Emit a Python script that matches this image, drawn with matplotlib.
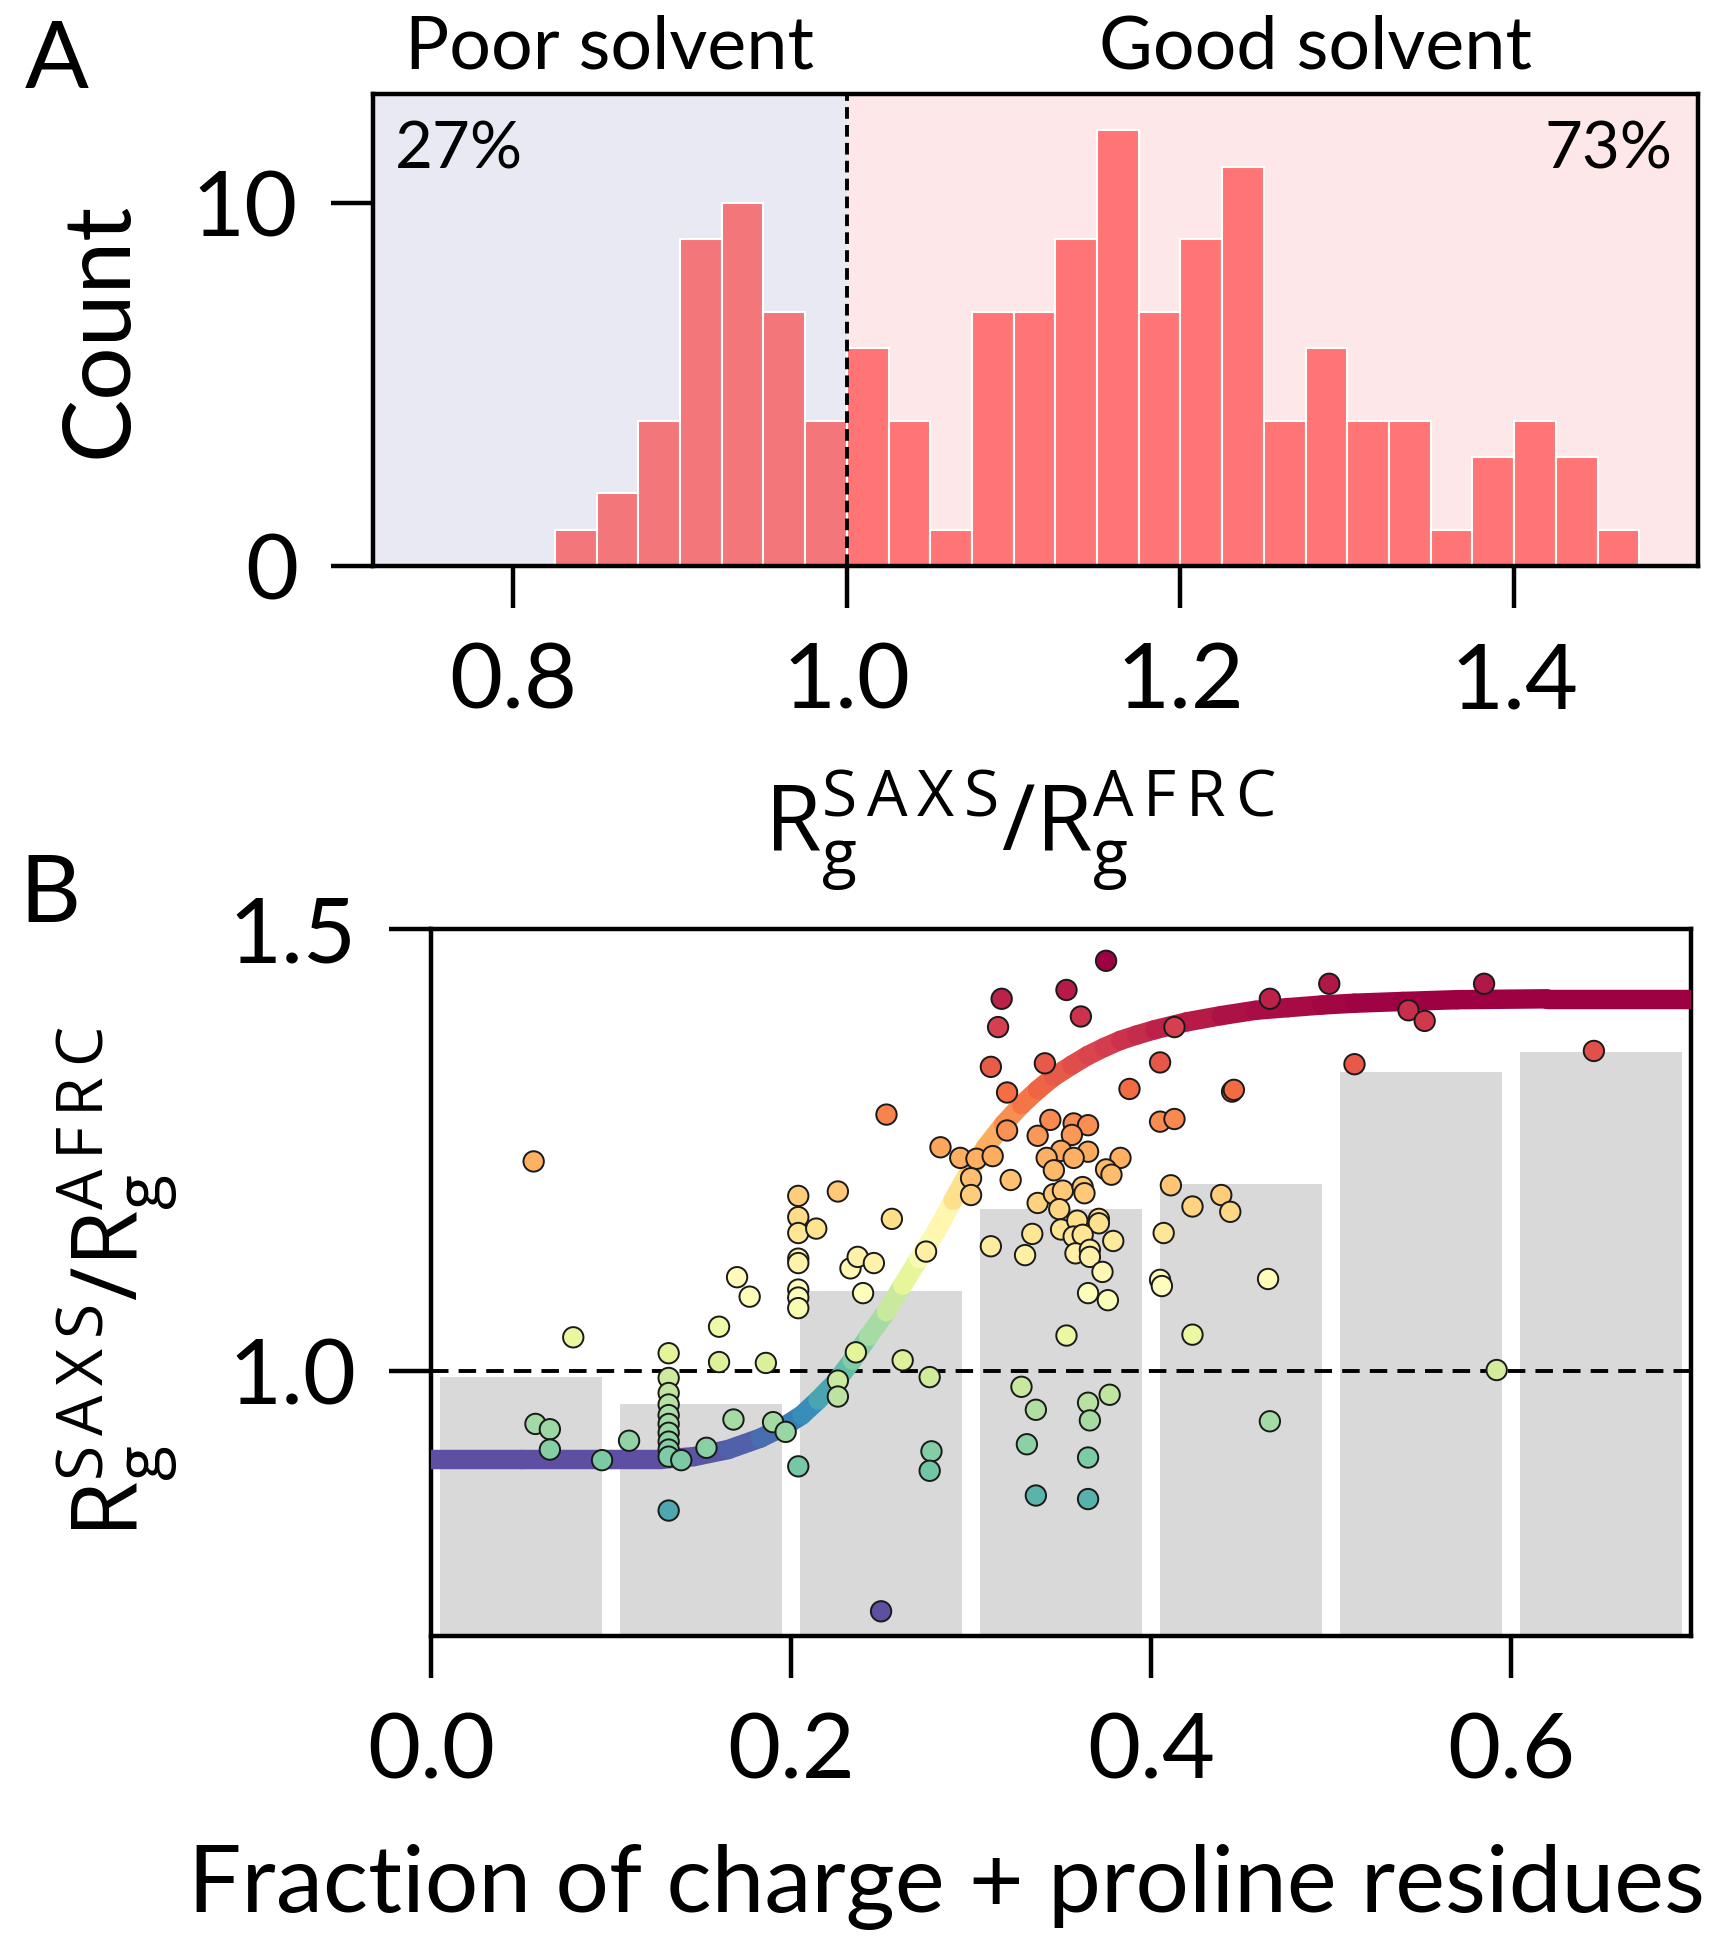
import numpy as np
import matplotlib
matplotlib.use("Agg")
import matplotlib.pyplot as plt
from matplotlib.collections import LineCollection

plt.rcParams['font.family'] = ['Lato', 'DejaVu Sans']
plt.rcParams['mathtext.fontset'] = 'custom'
plt.rcParams['mathtext.rm'] = 'Open Sans'
plt.rcParams['mathtext.it'] = 'Open Sans'

# ---- panel A: histogram of Rg ratio ----
bin_left = [0.825, 0.850, 0.875, 0.900, 0.925, 0.950, 0.975,
            1.000, 1.025, 1.050, 1.075, 1.100, 1.125, 1.150, 1.175, 1.200,
            1.225, 1.250, 1.275, 1.300, 1.325, 1.350, 1.375, 1.400, 1.425, 1.450]
bin_count = [1, 2, 4, 9, 10, 7, 4,
             6, 4, 1, 7, 7, 9, 12, 7, 9,
             11, 4, 6, 4, 4, 1, 3, 4, 3, 1]
bin_width = 0.025

# ---- panel B: scatter, binned means, sigmoid fit ----
fcr_x = [0.057, 0.079, 0.058, 0.066, 0.066, 0.095, 0.110,
         0.132, 0.132, 0.132, 0.132, 0.132, 0.132, 0.132, 0.132, 0.132, 0.132,
         0.132, 0.139, 0.153, 0.160, 0.160, 0.170, 0.177, 0.186, 0.168, 0.190, 0.197,
         0.204, 0.204, 0.204, 0.204, 0.204, 0.204, 0.204, 0.204, 0.204,
         0.214, 0.226, 0.256, 0.233, 0.237, 0.246, 0.240, 0.236, 0.262, 0.277,
         0.226, 0.226, 0.278, 0.277, 0.250, 0.253, 0.275, 0.283, 0.294, 0.303,
         0.312, 0.300, 0.300,
         0.375, 0.353, 0.317, 0.361, 0.315, 0.311, 0.341, 0.405, 0.320, 0.388,
         0.320, 0.344, 0.357, 0.365, 0.356, 0.337, 0.405, 0.350, 0.365, 0.342,
         0.357, 0.383, 0.346, 0.375, 0.378, 0.322,
         0.337, 0.346, 0.351, 0.362, 0.363, 0.349, 0.334, 0.311, 0.330, 0.350,
         0.359, 0.371, 0.371, 0.357, 0.362, 0.379, 0.358, 0.366, 0.366, 0.373,
         0.365, 0.376, 0.353, 0.328, 0.336, 0.365, 0.366, 0.377, 0.331, 0.365,
         0.336, 0.365, 0.407, 0.405, 0.406,
         0.413, 0.466, 0.499, 0.543, 0.552, 0.585, 0.445, 0.446, 0.513, 0.646,
         0.413, 0.411, 0.439, 0.423, 0.444, 0.465, 0.423, 0.592, 0.466]
rg_ratio = [1.237, 1.038, 0.940, 0.934, 0.911, 0.899, 0.921,
            1.020, 0.992, 0.975, 0.962, 0.950, 0.940, 0.930, 0.920, 0.911, 0.903,
            0.842, 0.899, 0.913, 1.050, 1.010, 1.106, 1.084, 1.009, 0.945, 0.942, 0.931,
            1.198, 1.174, 1.156, 1.127, 1.122, 1.092, 1.083, 1.071, 0.892,
            1.161, 1.203, 1.172, 1.116, 1.129, 1.122, 1.088, 1.021, 1.012, 0.993,
            0.989, 0.971, 0.909, 0.887, 0.728, 1.290, 1.135, 1.253, 1.241, 1.240,
            1.243, 1.218, 1.199,
            1.464, 1.431, 1.421, 1.401, 1.389, 1.344, 1.348, 1.349, 1.315, 1.319,
            1.272, 1.284, 1.280, 1.278, 1.267, 1.266, 1.282, 1.249, 1.248, 1.241,
            1.241, 1.241, 1.227, 1.228, 1.222, 1.216,
            1.190, 1.200, 1.204, 1.208, 1.201, 1.183, 1.155, 1.141, 1.131, 1.160,
            1.170, 1.172, 1.167, 1.152, 1.154, 1.147, 1.133, 1.137, 1.129, 1.112,
            1.088, 1.080, 1.040, 0.982, 0.956, 0.964, 0.944, 0.973, 0.917, 0.902,
            0.859, 0.855, 1.156, 1.103, 1.096,
            1.389, 1.421, 1.438, 1.408, 1.396, 1.438, 1.316, 1.318, 1.347, 1.362,
            1.285, 1.210, 1.199, 1.186, 1.180, 1.104, 1.041, 1.001, 0.943]

bin_centers = [0.05, 0.15, 0.25, 0.35, 0.45, 0.55, 0.65]
bin_means = [0.993, 0.962, 1.090, 1.183, 1.211, 1.338, 1.361]

fit_x = [0.0, 0.05, 0.10, 0.128, 0.146, 0.165, 0.183, 0.196, 0.206, 0.215,
         0.225, 0.234, 0.243, 0.253, 0.262, 0.271, 0.281, 0.290, 0.299, 0.308,
         0.318, 0.328, 0.337, 0.346, 0.356, 0.365, 0.374, 0.383, 0.392, 0.402,
         0.420, 0.439, 0.458, 0.476, 0.495, 0.513, 0.54, 0.57, 0.62, 0.70]
fit_y = [0.900, 0.900, 0.900, 0.900, 0.903, 0.911, 0.924, 0.937, 0.950, 0.967,
         0.988, 1.012, 1.039, 1.067, 1.097, 1.127, 1.159, 1.193, 1.226, 1.253,
         1.279, 1.301, 1.318, 1.333, 1.346, 1.357, 1.366, 1.374, 1.380, 1.386,
         1.395, 1.402, 1.408, 1.411, 1.414, 1.416, 1.418, 1.420, 1.421, 1.421]

fig = plt.figure(figsize=(17.27, 19.5), dpi=100)
axA = fig.add_axes([0.216, 0.7097, 0.767, 0.242])
axB = fig.add_axes([0.2496, 0.161, 0.7296, 0.3626])

tick_kw = dict(labelsize=66, length=30, width=3.2, pad=24)

# ----- A -----
axA.set_xlim(0.716, 1.51)
axA.set_ylim(0, 13)
axA.axvspan(0.716, 1.0, color='#E9E9F3', zorder=0)
axA.axvspan(1.0, 1.51, color='#FDE7E8', zorder=0)
cols = ['#F2767A' if b < 1.0 else '#FF7474' for b in bin_left]
axA.bar(bin_left, bin_count, width=bin_width, align='edge', color=cols,
        edgecolor='white', linewidth=1.5, zorder=2)
axA.axvline(1.0, color='black', ls=(0, (3, 1.6)), lw=2.8, zorder=3)
axA.set_xticks([0.8, 1.0, 1.2, 1.4])
axA.set_xticklabels(['0.8', '1.0', '1.2', '1.4'])
axA.set_yticks([0, 10])
axA.tick_params(**tick_kw)
for s in axA.spines.values():
    s.set_linewidth(3.2)
axA.set_ylabel('Count', fontsize=68)
axA.yaxis.set_label_coords(-0.174, 0.5)
axA.set_xlabel(r'$\mathrm{R_g^{S\,A\,X\,S}/R_g^{A\,F\,R\,C}}$', fontsize=66)
axA.xaxis.set_label_coords(0.488, -0.43)
axA.text(0.858, 1.055, 'Poor solvent', transform=axA.get_xaxis_transform(),
         ha='center', va='baseline', fontsize=53)
axA.text(1.281, 1.055, 'Good solvent', transform=axA.get_xaxis_transform(),
         ha='center', va='baseline', fontsize=53)
axA.text(0.0166, 0.843, '27%', transform=axA.transAxes, ha='left',
         va='baseline', fontsize=47)
axA.text(0.981, 0.843, '73%', transform=axA.transAxes, ha='right',
         va='baseline', fontsize=47)

# ----- B -----
axB.set_xlim(0, 0.70)
axB.set_ylim(0.70, 1.5)
axB.bar(bin_centers, bin_means, width=0.09, color='#D9D9D9', zorder=1)
axB.axhline(1.0, color='black', ls=(0, (4.5, 2.6)), lw=2.8, zorder=2)

fx = np.array(fit_x)
fy = np.array(fit_y)
segs = np.stack([np.column_stack([fx[:-1], fy[:-1]]),
                 np.column_stack([fx[1:], fy[1:]])], axis=1)
mids = (fy[:-1] + fy[1:]) / 2
lc = LineCollection(segs, cmap='Spectral_r',
                    norm=plt.Normalize(fy.min(), fy.max()),
                    linewidths=14, capstyle='round', joinstyle='round', zorder=3)
lc.set_array(mids)
axB.add_collection(lc)

axB.scatter(fcr_x, rg_ratio, c=rg_ratio, cmap='Spectral_r',
            vmin=min(rg_ratio), vmax=max(rg_ratio), s=215,
            edgecolors='#1a1a1a', linewidths=1.4, zorder=4)

axB.set_xticks([0.0, 0.2, 0.4, 0.6])
axB.set_xticklabels(['0.0', '0.2', '0.4', '0.6'])
axB.set_yticks([1.0, 1.5])
axB.set_yticklabels(['1.0', '1.5'])
axB.tick_params(**tick_kw)
for s in axB.spines.values():
    s.set_linewidth(3.2)
axB.set_ylabel(r'$\mathrm{R_g^{S\,A\,X\,S}/R_g^{A\,F\,R\,C}}$', fontsize=66)
axB.yaxis.set_label_coords(-0.199, 0.5)
axB.set_xlabel('Fraction of charge + proline residues', fontsize=68)
axB.xaxis.set_label_coords(0.409, -0.294)

fig.text(0.0145, 0.990, 'A', fontsize=68, va='top', ha='left')
fig.text(0.011, 0.562, 'B', fontsize=68, va='top', ha='left')

fig.savefig('out.png', dpi=100)
